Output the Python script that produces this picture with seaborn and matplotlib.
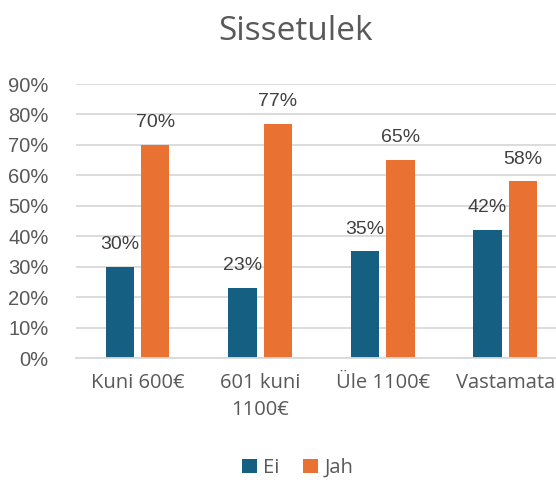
import matplotlib
matplotlib.use("Agg")
import matplotlib.pyplot as plt
import seaborn as sns
import pandas as pd
from matplotlib.patches import Patch

categories = ["Kuni 600€", "601 kuni\n1100€", "Üle 1100€", "Vastamata"]
ei_values = [0.30, 0.23, 0.35, 0.42]
jah_values = [0.70, 0.77, 0.65, 0.58]
series_names = ["Ei", "Jah"]
colors = ["#156082", "#E97132"]
yticks = [0, 0.1, 0.2, 0.3, 0.4, 0.5, 0.6, 0.7, 0.8, 0.9]

df = pd.DataFrame({
    "cat": categories * 2,
    "val": ei_values + jah_values,
    "series": [series_names[0]] * 4 + [series_names[1]] * 4,
})

sns.set_theme(style="white")
plt.rcParams["font.family"] = ["Liberation Sans", "DejaVu Sans"]

fig = plt.figure(figsize=(5.56, 4.80), dpi=100)
ax = fig.add_axes([0.137, 0.254, 0.882, 0.571])

sns.barplot(data=df, x="cat", y="val", hue="series", palette=colors,
            width=0.578, gap=0.2, ax=ax, legend=False, linewidth=0,
            saturation=1)

ax.set_ylim(0, 0.9)
ax.set_xlim(-0.5, 3.5)
ax.set_yticks(yticks)
ax.set_yticklabels([f"{int(round(t*100))}%" for t in yticks], fontsize=14.5, color="#595959")
ax.set_xticks(range(len(categories)))
ax.set_xticklabels(categories, fontsize=14.5, color="#595959", family=["Open Sans", "DejaVu Sans"],
                   linespacing=1.45)
ax.tick_params(axis="both", length=0)
ax.tick_params(axis="y", pad=20)
ax.tick_params(axis="x", pad=11)
ax.set_xlabel("")
ax.set_ylabel("")
ax.grid(axis="y", color="#D9D9D9", linewidth=1.3)
ax.set_axisbelow(True)
for s in ["top", "right", "left"]:
    ax.spines[s].set_visible(False)
ax.spines["bottom"].set_color("#D9D9D9")
ax.spines["bottom"].set_linewidth(1.3)

for container in ax.containers:
    for bar in container:
        h = bar.get_height()
        ax.annotate(f"{int(round(h*100))}%", (bar.get_x() + bar.get_width() / 2, h),
                    xytext=(0, 10), textcoords="offset points", ha="center", va="bottom",
                    fontsize=14, color="#404040")

fig.text(0.532, 0.935, "Sissetulek", ha="center", va="center", fontsize=24,
         color="#595959", family=["Open Sans", "DejaVu Sans"])

handles = [Patch(facecolor=c, edgecolor="none") for c in colors]
fig.legend(handles, series_names, loc="center", bbox_to_anchor=(0.535, 0.025),
           ncol=2, frameon=False, handlelength=0.75, handleheight=0.75,
           handletextpad=0.3, columnspacing=1.2,
           prop={"family": ["Open Sans", "DejaVu Sans"], "size": 14.5})
for t in fig.legends[0].get_texts():
    t.set_color("#595959")

fig.savefig("out.png", dpi=100)
